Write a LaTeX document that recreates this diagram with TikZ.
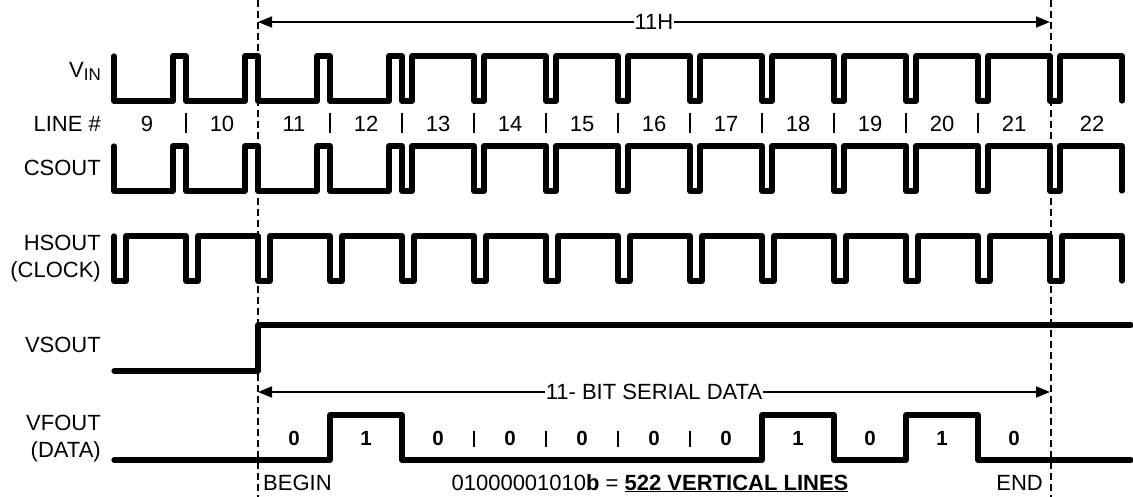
\documentclass[tikz,border=0pt]{standalone}
\usepackage{fontspec}
\setmainfont{Liberation Sans}
\usetikzlibrary{arrows.meta}
\newcommand\syncwave[2]{%
  \draw[wave] (114,#1) -- (114,#2)
    \foreach \b in {186,258,330,402}{ -- (\b-13,#2) -- (\b-13,#1) -- (\b,#1) -- (\b,#2) }
    -- (412,#2) -- (412,#1)
    \foreach \b in {474,546,...,1050}{ -- (\b,#1) -- (\b,#2) -- (\b+10,#2) -- (\b+10,#1) }
    -- (1122,#1) -- (1122,#2);}
\begin{document}
\begin{tikzpicture}[x=1pt,y=-1pt,
  wave/.style={line width=5.2pt,line cap=round,line join=round},
  guide/.style={line width=1.3pt,dash pattern=on 7pt off 4pt},
  dim/.style={line width=1.6pt,{Triangle[length=14pt,width=11pt]}-{Triangle[length=14pt,width=11pt]}},
  lab/.style={font=\fontsize{22}{24}\selectfont,inner sep=0pt},
  bit/.style={font=\fontsize{20.5}{22}\selectfont\bfseries,inner sep=0pt},
  tickmark/.style={line width=1.8pt}]
\useasboundingbox (0,0) rectangle (1133,497);
% guides
\coordinate (gLt) at (258,0); \coordinate (gLb) at (258,497);
\coordinate (gRt) at (1051,0); \coordinate (gRb) at (1051,497);
\draw[guide] (gLt) -- (gLb);
\draw[guide] (gRt) -- (gRb);
% waveforms
\syncwave{56}{101}
\syncwave{146}{191}
\draw[wave] (114,236)
  \foreach \b in {114,186,...,1050}{ -- (\b,236) -- (\b,281) -- (\b+12,281) -- (\b+12,236) }
  -- (1122,236) -- (1122,281);
\draw[wave] (114,371) -- (258,371) -- (258,325) -- (1131,325);
\draw[wave] (114,460) -- (330,460) -- (330,415) -- (402,415) -- (402,460) -- (762,460) -- (762,415)
  -- (834,415) -- (834,460) -- (906,460) -- (906,415) -- (978,415) -- (978,460) -- (1131,460);
% left labels
\node[lab,anchor=base east] (lvin) at (101,78) {V\raisebox{-3pt}{\fontsize{17}{17}\selectfont IN}};
\node[lab,anchor=base east] (lline) at (101,132) {LINE \#};
\node[lab,anchor=base east] (lcs) at (101,176) {CSOUT};
\node[lab,anchor=base east] (lhs) at (101,251) {HSOUT};
\node[lab,anchor=base east] (lclk) at (101,278) {(CLOCK)};
\node[lab,anchor=base east] (lvs) at (101,352) {VSOUT};
\node[lab,anchor=base east] (lvf) at (101,430) {VFOUT};
\node[lab,anchor=base east] (ldata) at (101,457) {(DATA)};
% line numbers
\foreach \n/\x in {9/147,10/222,11/294,12/366,13/438,14/510,15/582,16/654,17/726,18/798,19/870,20/942,21/1014,22/1092}
  \node[lab,anchor=base] (ln\n) at (\x,132) {\n};
\foreach \x in {186,330,402,474,546,618,690,762,834,906,978}
  \draw[tickmark] (\x,113) -- (\x,133);
% 11H arrow
\coordinate (hA) at (258,22); \coordinate (hB) at (1050,22);
\draw[dim] (hA) -- (hB);
\node[lab,fill=white,inner sep=0.5pt] (h11) at (654,22) {11H};
% serial data arrow
\coordinate (sA) at (258,392); \coordinate (sB) at (1050,392);
\draw[dim] (sA) -- (sB);
\node[lab,fill=white,inner sep=0.5pt] (s11) at (654,392) {11- BIT SERIAL DATA};
% bits
\foreach \v/\x [count=\i] in {0/294,1/366,0/438,0/510,0/582,0/654,0/726,1/798,0/870,1/942,0/1014}
  \node[bit,anchor=base] (bit\i) at (\x,445) {\v};
\foreach \x in {474,546,618,690}
  \draw[line width=1.5pt] (\x,431) -- (\x,447);
% bottom texts
\node[lab,anchor=base west] (begin) at (263,490) {BEGIN};
\node[lab,anchor=base east] (end) at (1043,490) {END};
\node[lab,anchor=base] (val) at (650,490) {01000001010\textbf{b} = \textbf{\underline{522 VERTICAL LINES}}};
\end{tikzpicture}
\end{document}
